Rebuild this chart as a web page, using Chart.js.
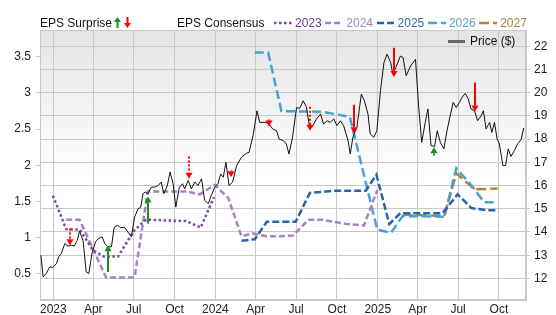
<!DOCTYPE html>
<html>
<head>
<meta charset="utf-8">
<script src="https://cdn.jsdelivr.net/npm/chart.js@4.4.0/dist/chart.umd.min.js"></script>
<style>
  body { margin: 0; background: #fff; font-family: "Liberation Sans", Arial, sans-serif; }
  #wrap { position: relative; width: 556px; height: 315px; }
  #epsChart { position: absolute; left: 0; top: 0; }
  .lg { position: absolute; font-size: 12px; line-height: 12px; white-space: nowrap; color: #111; }
  #yearLegend { position: absolute; left: 274px; top: 17px; display: flex; align-items: center; font-size: 12px; line-height: 12px; }
  #yearLegend svg { margin-right: 3px; }
  #yearLegend span { margin-right: 3.6px; }
</style>
</head>
<body>
<div id="wrap">
  <canvas id="epsChart" width="556" height="315"></canvas>
  <div class="lg" style="left:40px; top:17px;">EPS Surprise</div>
  <svg class="lg" style="left:113px; top:17px;" width="21" height="11">
    <polygon points="1,5 8,5 4.5,0" fill="#1a8c1a"></polygon>
    <rect x="3.5" y="4" width="2" height="7" fill="#1a8c1a"></rect>
    <rect x="13.5" y="0" width="2" height="7" fill="#ff0000"></rect>
    <polygon points="11,6 18,6 14.5,11" fill="#ff0000"></polygon>
  </svg>
  <div class="lg" style="left:177px; top:17px;">EPS Consensus</div>
  <div id="yearLegend"></div>
  <div style="position:absolute; left:448px; top:40px; width:17px; height:3px; background:#666;"></div>
  <div class="lg" style="left:470px; top:35px;">Price ($)</div>
</div>
<script>
// days counted from 1 Jan 2023
const priceDays = [-28,-23,-16,-8,-1,7,12,18,26,33,41,47,54,59,67,74,80,87,95,102,110,116,123,131,137,144,152,161,168,176,183,191,197,202,207,213,221,228,236,243,249,257,263,270,276,284,291,296,304,311,319,326,334,341,349,356,364,371,377,383,389,396,404,413,424,435,441,450,459,465,479,486,494,503,509,518,525,531,539,548,555,563,570,578,585,593,602,609,617,624,632,639,647,654,664,669,675,684,694,701,709,714,722,729,737,745,752,760,765,773,782,788,795,805,816,823,830,838,844,851,859,865,872,880,887,895,901,908,915,920,928,935,941,949,956,964,969,975,983,988,994,1000,1005,1013,1019,1025,1031,1039,1046,1054,1060];
const priceValues = [13.0,12.07,12.21,12.5,12.47,12.64,12.93,13.07,13.5,13.39,13.43,13.39,13.64,14.04,13.64,12.28,12.21,13.07,13.57,13.72,13.79,13.5,13.36,13.36,14.19,14.29,14.19,14.19,14.0,13.79,14.64,15.0,15.07,15.65,15.72,15.65,15.93,15.93,16.0,16.15,15.65,16.0,16.58,16.08,15.07,15.93,16.08,15.86,16.22,15.86,16.15,16.0,16.29,15.36,15.22,15.58,15.93,16.08,16.5,16.36,17.0,16.0,16.15,16.86,17.22,17.39,17.43,18.15,19.22,18.72,18.72,18.65,18.44,18.36,18.0,17.94,17.79,17.36,18.08,19.36,19.32,19.65,19.39,18.44,18.58,18.87,19.08,18.65,18.79,18.72,18.87,18.58,18.79,18.58,17.94,17.36,18.08,18.51,19.94,19.65,19.08,18.22,18.08,18.36,20.08,21.3,21.66,21.3,20.8,21.15,21.58,21.51,20.73,21.15,21.44,19.44,17.86,18.72,19.3,17.72,17.68,18.36,17.86,17.58,18.36,19.08,19.58,19.36,19.58,19.77,19.97,19.73,19.3,19.22,18.79,19.01,19.22,18.44,18.72,18.29,18.72,18.0,17.79,16.86,16.86,17.58,17.25,17.51,17.79,17.98,18.48];

// EPS consensus per fiscal year
const consensusYears = ['2023', '2024', '2025', '2026', '2027'];
const c2023Days = [-1,29,60,89,114,146,182,209,299,332,362];
const c2023 = [1.58,1.12,1.11,0.83,0.74,0.74,1.10,1.25,1.23,1.14,1.56];
const c2024Days = [29,59,119,183,213,301,330,364,394,424,449,480,510,540,575,605,660,700,730];
const c2024 = [1.25,1.25,0.45,0.45,1.64,1.64,1.60,1.73,1.55,1.02,1.06,1.02,1.02,1.03,1.25,1.25,1.19,1.17,1.66];
const c2025Days = [424,454,481,546,578,636,704,728,757,782,877,911,942,976,1003];
const c2025 = [0.96,0.98,1.22,1.22,1.62,1.65,1.65,1.87,1.19,1.34,1.34,1.60,1.41,1.38,1.38];
const c2026Days = [454,484,514,607,668,730,761,787,881,908,941,971,1001];
const c2026 = [3.56,3.56,2.75,2.74,2.67,1.11,1.07,1.30,1.29,1.96,1.73,1.49,1.49];
const c2027Days = [787,881,908,949,1001];
const c2027 = [1.32,1.30,1.89,1.67,1.68];

// EPS surprise arrows (price units), solid = large surprise
const surpriseDays = [38,123,213,305,401,486,578,677,767,857,949];
const surpriseFrom = [14.15,12.28,14.36,17.25,16.65,18.84,19.39,19.48,21.94,17.29,20.44];
const surpriseTo = [13.43,13.43,15.53,16.29,16.36,18.54,18.36,18.25,20.68,17.65,19.19];
const surpriseSolid = [false,true,true,false,true,true,false,true,true,false,true];

const xTickDates = ['2023-01-01','2023-04-01','2023-07-01','2023-10-01','2024-01-01','2024-04-01','2024-07-01','2024-10-01','2025-01-01','2025-04-01','2025-07-01','2025-10-01'];
const xTickLabels = ['2023','Apr','Jul','Oct','2024','Apr','Jul','Oct','2025','Apr','Jul','Oct'];
const epsTicks = [0.5, 1, 1.5, 2, 2.5, 3, 3.5];
const priceTicks = [12, 13, 14, 15, 16, 17, 18, 19, 20, 21, 22];

function dayOf(s) {
  const p = s.split('-').map(Number);
  return (Date.UTC(p[0], p[1] - 1, p[2]) - Date.UTC(2023, 0, 1)) / 86400000;
}
const xTickDays = xTickDates.map(dayOf);

function pts(days, vals) {
  return days.map((d, i) => ({ x: d, y: vals[i] }));
}

const yearStyles = [
  { line: '#7a4a9c', text: '#6b4088', dash: [2.5, 2.5] },
  { line: '#a782c3', text: '#a088bc', dash: [6, 3] },
  { line: '#2465ad', text: '#3a68a0', dash: [7, 3] },
  { line: '#47a3d3', text: '#5a9ec4', dash: [9, 4] },
  { line: '#b5823a', text: '#a67b3e', dash: [10, 4] }
];
const consensusData = [pts(c2023Days, c2023), pts(c2024Days, c2024), pts(c2025Days, c2025), pts(c2026Days, c2026), pts(c2027Days, c2027)];

// year legend
const yl = document.getElementById('yearLegend');
consensusYears.forEach((yr, i) => {
  const st = yearStyles[i];
  const sv = document.createElementNS('http://www.w3.org/2000/svg', 'svg');
  sv.setAttribute('width', '18'); sv.setAttribute('height', '6');
  const ln = document.createElementNS('http://www.w3.org/2000/svg', 'line');
  ln.setAttribute('x1', '0'); ln.setAttribute('x2', '18'); ln.setAttribute('y1', '3'); ln.setAttribute('y2', '3');
  ln.setAttribute('stroke', st.line); ln.setAttribute('stroke-width', '2.5');
  ln.setAttribute('stroke-dasharray', st.dash.join(' '));
  sv.appendChild(ln);
  yl.appendChild(sv);
  const sp = document.createElement('span');
  sp.textContent = yr; sp.style.color = st.text;
  yl.appendChild(sp);
});

Chart.defaults.font.family = '"Liberation Sans", Arial, sans-serif';
Chart.defaults.font.size = 12;
Chart.defaults.color = '#222';

const plotBackground = {
  id: 'plotBackground',
  beforeDraw(chart) {
    const { ctx, chartArea: a } = chart;
    const g = ctx.createLinearGradient(0, a.top, 0, a.bottom);
    g.addColorStop(0, '#e4e4e4');
    g.addColorStop(0.55, '#ffffff');
    g.addColorStop(1, '#ffffff');
    ctx.save();
    ctx.fillStyle = g;
    ctx.fillRect(a.left, a.top, a.right - a.left, a.bottom - a.top);
    ctx.strokeStyle = '#c8c8c8';
    ctx.lineWidth = 1;
    ctx.strokeRect(a.left + 0.5, a.top + 0.5, a.right - a.left - 1, a.bottom - a.top - 1);
    ctx.restore();
  }
};

const surpriseArrows = {
  id: 'surpriseArrows',
  afterDatasetsDraw(chart) {
    const { ctx, scales: { x, yPrice } } = chart;
    surpriseDays.forEach((d, i) => {
      const px = Math.round(x.getPixelForValue(d));
      const y0 = yPrice.getPixelForValue(surpriseFrom[i]);
      const y1 = yPrice.getPixelForValue(surpriseTo[i]);
      const up = y1 < y0;
      const dir = up ? -1 : 1;
      const col = up ? '#1a8c1a' : '#ff0000';
      const headH = 6, headW = 3.6;
      ctx.save();
      ctx.strokeStyle = col;
      ctx.fillStyle = col;
      ctx.lineWidth = 2;
      if (!surpriseSolid[i]) ctx.setLineDash([2, 2]);
      if (Math.abs(y1 - y0) > headH) {
        ctx.beginPath();
        ctx.moveTo(px, y0);
        ctx.lineTo(px, y1 - dir * headH);
        ctx.stroke();
      }
      ctx.setLineDash([]);
      ctx.beginPath();
      ctx.moveTo(px - headW, y1 - dir * headH);
      ctx.lineTo(px + headW, y1 - dir * headH);
      ctx.lineTo(px, y1);
      ctx.closePath();
      ctx.fill();
      ctx.restore();
    });
  }
};

const datasets = [{
  label: 'Price ($)',
  data: pts(priceDays, priceValues),
  yAxisID: 'yPrice',
  borderColor: '#111',
  borderWidth: 1,
  pointRadius: 0,
  tension: 0
}];
consensusYears.forEach((yr, i) => {
  datasets.push({
    label: yr,
    data: consensusData[i],
    yAxisID: 'yEps',
    borderColor: yearStyles[i].line,
    borderDash: yearStyles[i].dash,
    borderWidth: 2.5,
    pointRadius: 0,
    tension: 0
  });
});

new Chart(document.getElementById('epsChart'), {
  type: 'line',
  data: { datasets: datasets },
  options: {
    responsive: false,
    animation: false,
    devicePixelRatio: 1,
    layout: { padding: { top: 30, left: 0, right: 0, bottom: 0 } },
    plugins: { legend: { display: false }, tooltip: { enabled: false } },
    scales: {
      x: {
        type: 'linear',
        min: -30,
        max: 1065,
        afterBuildTicks: (s) => { s.ticks = xTickDays.map(v => ({ value: v })); },
        afterFit: (s) => { s.height = 15; },
        grid: { color: '#c8c8c8', drawTicks: false },
        border: { color: '#c8c8c8' },
        ticks: { padding: 2, maxRotation: 0, autoSkip: false, callback: (v, i) => xTickLabels[i] }
      },
      yEps: {
        position: 'left',
        min: 0.14,
        max: 3.87,
        afterBuildTicks: (s) => { s.ticks = epsTicks.map(v => ({ value: v })); },
        afterFit: (s) => { s.width = 40; },
        grid: { drawOnChartArea: false, tickLength: 4, color: '#c8c8c8' },
        border: { color: '#c8c8c8' },
        ticks: { padding: 5, callback: (v) => String(v) }
      },
      yPrice: {
        position: 'right',
        min: 11.07,
        max: 22.7,
        afterBuildTicks: (s) => { s.ticks = priceTicks.map(v => ({ value: v })); },
        afterFit: (s) => { s.width = 30; },
        grid: { color: '#c8c8c8', tickLength: 4 },
        border: { color: '#c8c8c8' },
        ticks: { padding: 4, callback: (v) => String(v) }
      }
    }
  },
  plugins: [plotBackground, surpriseArrows]
});
</script>
</body>
</html>
